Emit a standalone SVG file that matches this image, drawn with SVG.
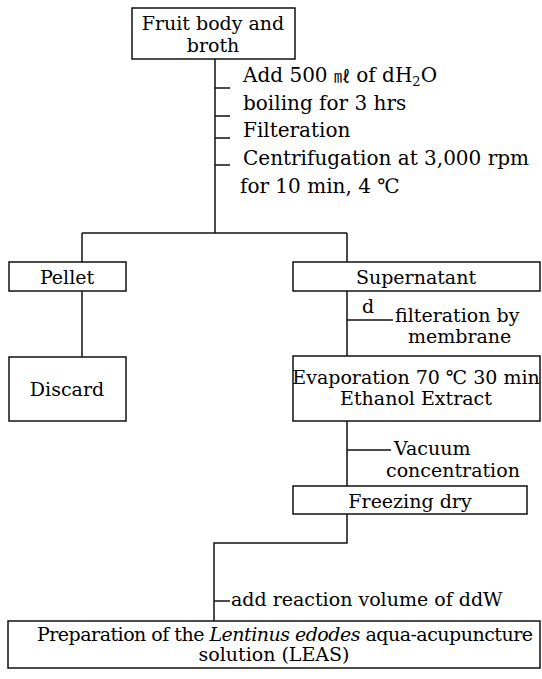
<svg xmlns="http://www.w3.org/2000/svg" width="542" height="679" viewBox="0 0 542 679">
<style>
.box{fill:#fff;stroke:#111;stroke-width:1.5}
.ln{fill:none;stroke:#111;stroke-width:1.5}
text{font-family:"DejaVu Serif","Liberation Serif",serif;fill:#000}
.b{font-size:19px;text-anchor:middle}
.s{font-size:20px}
.s2{font-size:19px}
</style>
<rect width="542" height="679" fill="#fff"/>
<g id="connectors">
<path class="ln" d="M215 59V233M215 88H230M215 116H230M215 138H230M215 165H230"/>
<path class="ln" d="M82 233H347M82 233V262M347 233V262"/>
<path class="ln" d="M82 291V357"/>
<path class="ln" d="M347 291V356M347 320H393"/>
<path class="ln" d="M347 421V486M347 450H391"/>
<path class="ln" d="M347 514V543H214V621M214 601H230"/>
</g>
<g id="n-fruit">
<rect class="box" x="132" y="8" width="163" height="51"/>
<text class="b" x="213" y="30" font-size="20">Fruit body and</text>
<text class="b" x="213" y="52" font-size="20">broth</text>
</g>
<g id="lbl-steps">
<text class="s" x="243" y="82">Add 500 <tspan font-family="Noto Sans CJK KR" font-size="16">㎖</tspan> of dH<tspan font-size="13" dy="4">2</tspan><tspan dy="-4">O</tspan></text>
<text class="s" x="243" y="110">boiling for 3 hrs</text>
<text class="s" x="243" y="137">Filteration</text>
<text class="s" x="243" y="165">Centrifugation at 3,000 rpm</text>
<text class="s" x="240" y="193">for 10 min, 4 ℃</text>
</g>
<g id="n-pellet">
<rect class="box" x="9" y="262" width="117" height="29"/>
<text class="b" x="67" y="284">Pellet</text>
</g>
<g id="n-discard">
<rect class="box" x="9" y="357" width="117" height="64"/>
<text class="b" x="67" y="396">Discard</text>
</g>
<g id="n-super">
<rect class="box" x="293" y="262" width="247" height="29"/>
<text class="b" x="416" y="284">Supernatant</text>
</g>
<g id="lbl-filt">
<text class="s2" x="362" y="313">d</text>
<text class="s2" x="395" y="322">filteration by</text>
<text class="s2" x="408" y="343">membrane</text>
</g>
<g id="n-evap">
<rect class="box" x="293" y="356" width="247" height="65"/>
<text class="b" x="416" y="384" font-size="18">Evaporation 70 ℃ 30 min</text>
<text class="b" x="416" y="405" font-size="18">Ethanol Extract</text>
</g>
<g id="lbl-vac">
<text class="s2" x="394" y="455">Vacuum</text>
<text class="s2" x="386" y="477">concentration</text>
</g>
<g id="n-freeze">
<rect class="box" x="293" y="486" width="234" height="28"/>
<text class="b" x="410" y="508">Freezing dry</text>
</g>
<g id="lbl-add">
<text class="s2" x="231" y="606">add reaction volume of ddW</text>
</g>
<g id="n-leas">
<rect class="box" x="8" y="621" width="532" height="47"/>
<text class="b" x="285" y="641" font-size="17.5" textLength="496" lengthAdjust="spacing">Preparation of the <tspan font-style="italic">Lentinus edodes</tspan> aqua-acupuncture</text>
<text class="b" x="274" y="661" font-size="18.5">solution (LEAS)</text>
</g>
</svg>
